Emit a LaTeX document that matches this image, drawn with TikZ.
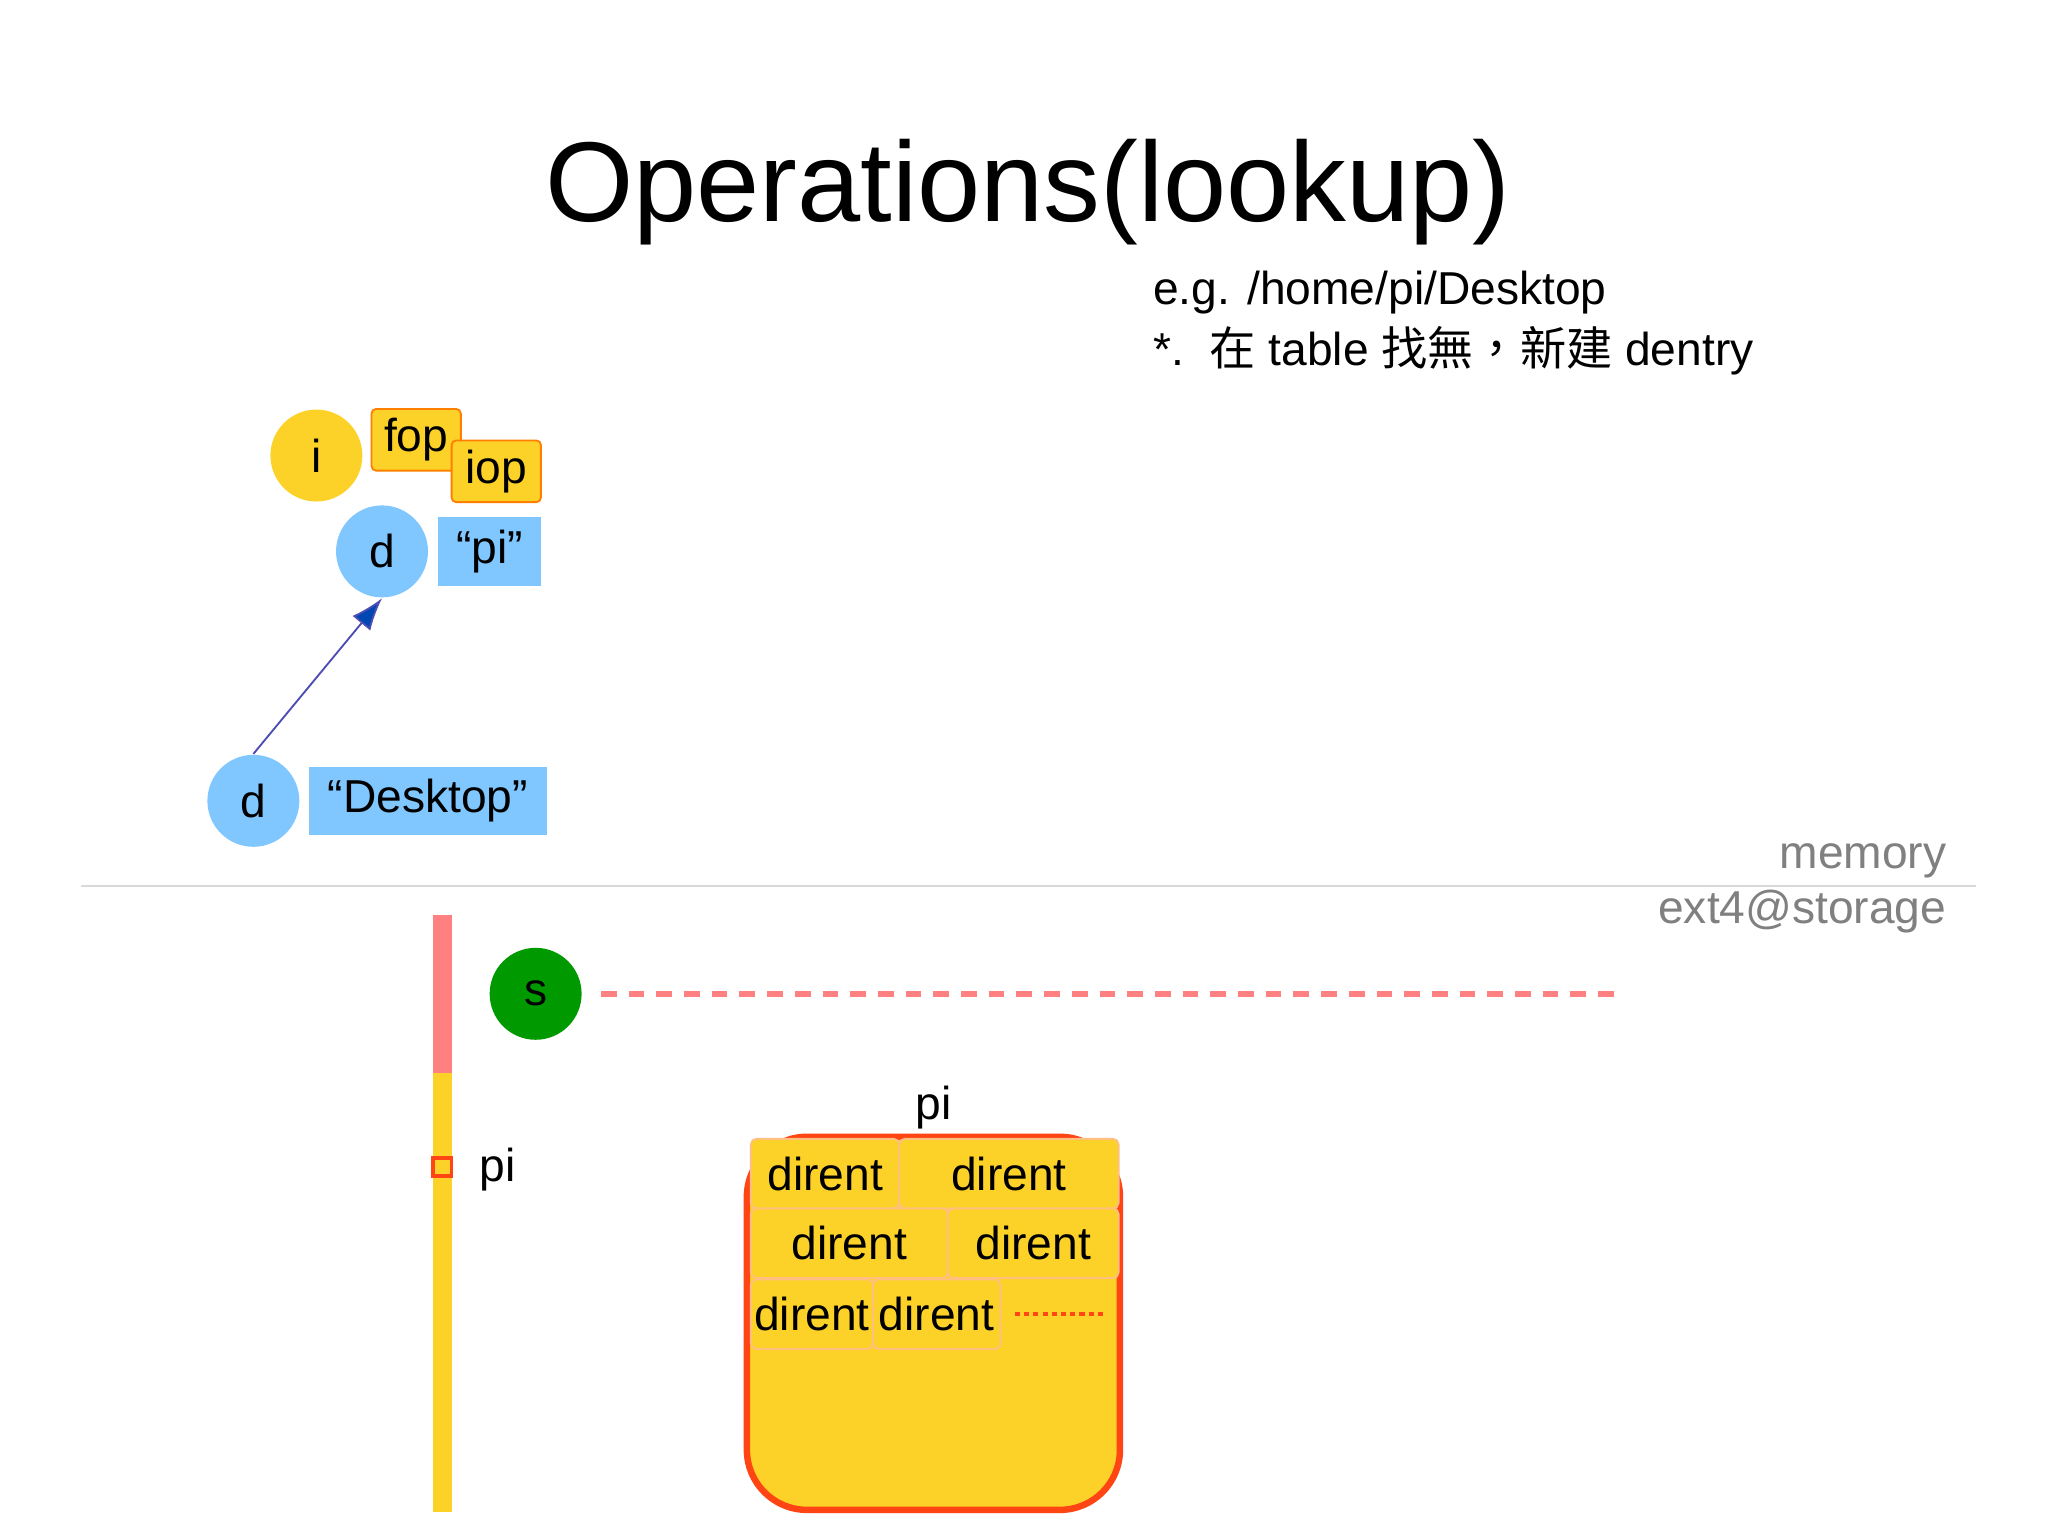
\documentclass[tikz,border=0pt]{standalone}
\usepackage{fontspec}
\usetikzlibrary{arrows.meta}
\setmainfont{Liberation Sans}
\newfontfamily\cjk{Noto Sans CJK TC}
\begin{document}
\begin{tikzpicture}[x=0.01cm,y=-0.01cm,
  circ/.style={circle,minimum size=0.7cm,inner sep=0,font=\fontsize{10}{12}\selectfont},
  tag/.style={minimum width=#1,minimum height=0.5cm,inner sep=0,font=\fontsize{10}{12}\selectfont},
  cell/.style={draw=orange!50,fill=Y,rounded corners=1.2pt,inner sep=0,minimum height=0.53cm,font=\fontsize{10}{12}\selectfont}]
\definecolor{Y}{HTML}{FDD228}
\definecolor{B}{HTML}{80C6FF}
\definecolor{R}{HTML}{FF4513}
\useasboundingbox (0,0) rectangle (1560,1170);
\fill[white] (0,0) rectangle (1560,1170);
\node (title) at (783,146) {\fontsize{24.6}{28}\selectfont Operations(lookup)};
\node[anchor=west] (eg) at (866,223) {\fontsize{10}{12}\selectfont e.g. /home/pi/Desktop};
\node[anchor=west] (note) at (866,267) {\fontsize{10}{12}\selectfont *.\ \ {\cjk 在} table {\cjk 找無，新建} dentry};
\node[circ,fill=Y] (i) at (241,347) {i};
\node[tag=0.68cm,fill=Y,draw=orange,rounded corners=1pt,minimum height=0.47cm] (fop) at (317,335) {fop};
\node[tag=0.68cm,fill=Y,draw=orange,rounded corners=1pt,minimum height=0.47cm] (iop) at (378,359) {iop};
\node[circ,fill=B] (d1) at (291,420) {d};
\node[tag=0.78cm,fill=B,minimum height=0.52cm] (pi1) at (373,420) {“pi”};
\node[circ,fill=B] (d2) at (193,610) {d};
\node[tag=1.81cm,fill=B,minimum height=0.52cm] (desk) at (326,610) {“Desktop”};
\draw[blue!40!gray,thin,-{Latex[length=7pt,width=5pt,fill=blue!60!cyan!70!black]}] (d2.north) -- (d1.south);
\coordinate (l1) at (62,675); \coordinate (l2) at (1505,675);
\draw[gray!30] (l1) -- (l2);
\node[anchor=east,text=gray,font=\fontsize{10}{12}\selectfont] (mem) at (1495,656) {memory};
\node[anchor=east,text=gray,font=\fontsize{10}{12}\selectfont] (ext) at (1495,694) {ext4@storage};
\fill[red!50] (330,697) rectangle (344,817);
\fill[Y] (330,817) rectangle (344,1152);
\node[draw=R,fill=Y,minimum size=0.14cm,inner sep=0,thick] (sq) at (337,889) {};
\node[anchor=west,font=\fontsize{10}{12}\selectfont] (pil) at (353,891) {pi};
\node[circ,fill=green!60!black] (s) at (408,757) {s};
\coordinate (dend) at (1235,757);
\draw[red!50,line width=1.2pt,dash pattern=on 3.4pt off 2.6pt] (s.east)++(14,0) -- (dend);
\node[font=\fontsize{10}{12}\selectfont] (pi2) at (711,844) {pi};
\node[draw=R,line width=1.4pt,fill=Y,rounded corners=13pt,minimum width=2.84cm,minimum height=2.84cm,inner sep=0] (blk) at (711,1008) {};
\node[cell,minimum width=1.13cm] (c1) at (628.5,894) {dirent};
\node[cell,minimum width=1.67cm] (c2) at (768.5,894) {dirent};
\node[cell,minimum width=1.50cm] (c3) at (647,947) {dirent};
\node[cell,minimum width=1.30cm] (c4) at (787,947) {dirent};
\node[cell,minimum width=0.93cm] (c5) at (618.5,1001) {dirent};
\node[cell,minimum width=0.97cm] (c6) at (713.5,1001) {dirent};
\coordinate (e1) at (773,1001); \coordinate (e2) at (840,1001);
\draw[R,line width=0.9pt,dash pattern=on 1.1pt off 0.9pt] (e1) -- (e2);
\end{tikzpicture}
\end{document}
